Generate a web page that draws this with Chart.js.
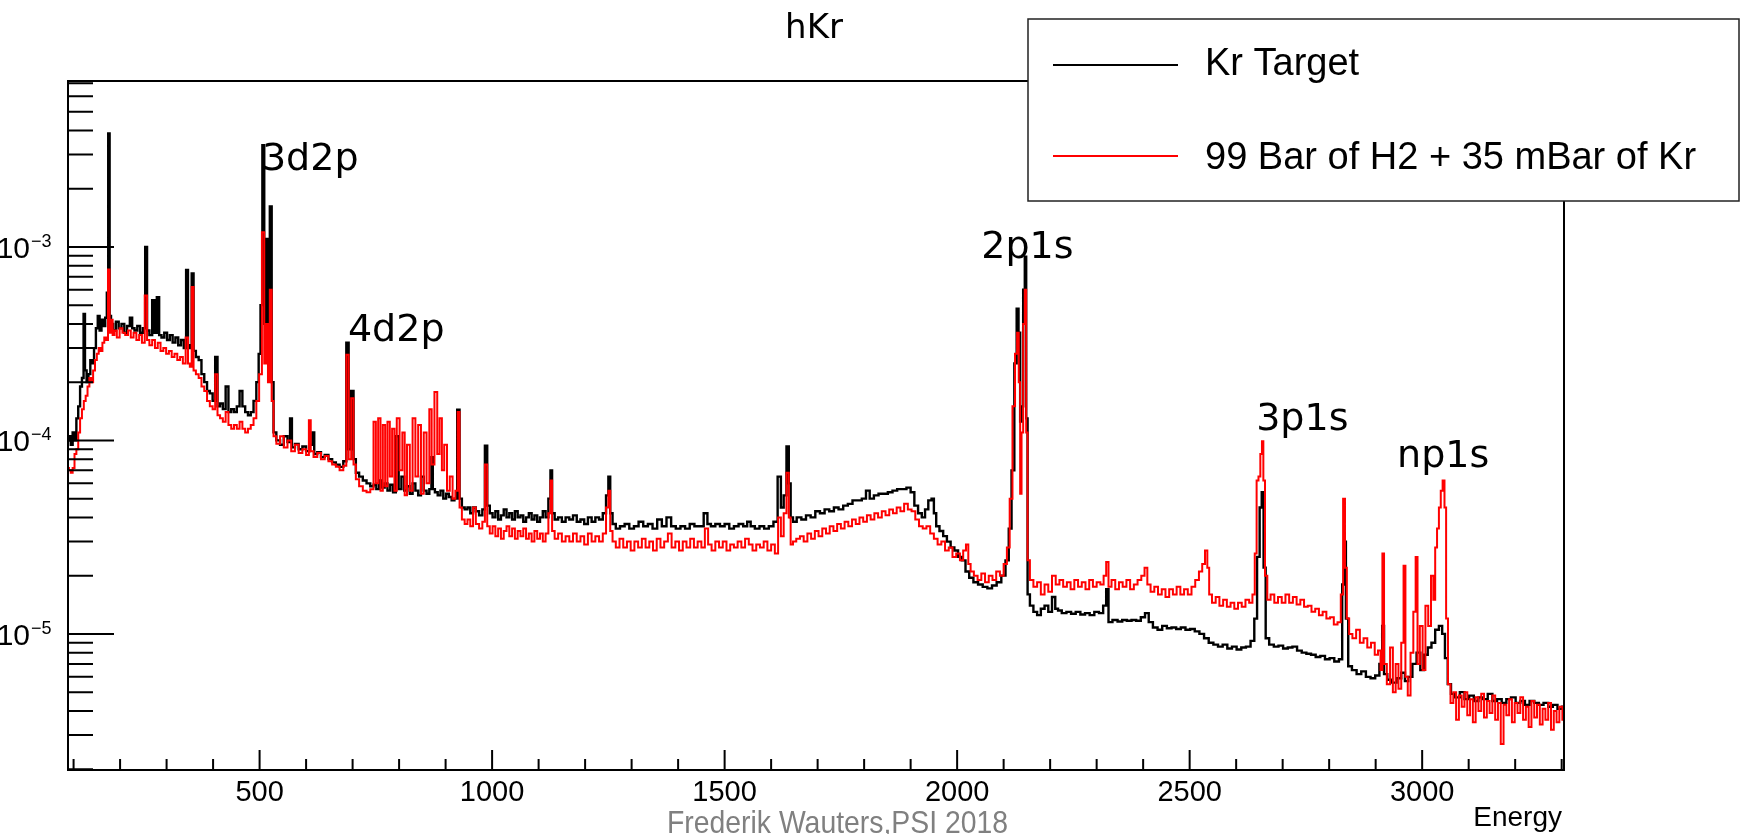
<!DOCTYPE html>
<html>
<head>
<meta charset="utf-8">
<title>hKr</title>
<script src="https://cdn.jsdelivr.net/npm/chart.js"></script>
<style>
  html, body { margin: 0; padding: 0; background: #fff; }
  #wrap { width: 1741px; height: 834px; position: relative; }
</style>
</head>
<body>
<div id="wrap"><canvas id="hKrChart"></canvas></div>
<script>
// axis range
const energyMin = 88;
const energyMax = 3305;
const countMin = 1.98e-6;
const countMax = 7.2e-3;

// tick labels
const energyTicks = [500, 1000, 1500, 2000, 2500, 3000];
const decadeTicks = [-3, -4, -5];

const seriesNames = ['Kr Target', '99 Bar of H2 + 35 mBar of Kr'];

// [energy, counts]
const krTarget = [
  [88,1.0e-4],[92,1.05e-4],[96,0.95e-4],[100,1.1e-4],[104,1.0e-4],[108,1.3e-4],[112,1.5e-4],[116,1.9e-4],
  [120,2.1e-4],[123,4.5e-4],[126,2.3e-4],[130,2.0e-4],[134,2.2e-4],[138,2.6e-4],[142,2.5e-4],[146,3.0e-4],
  [150,3.8e-4],[154,4.4e-4],[158,3.7e-4],[162,4.2e-4],[166,3.9e-4],[170,4.3e-4],[173,5.8e-4],[176,3.86e-3],
  [179,4.4e-4],[182,4.0e-4],[188,3.7e-4],[194,4.1e-4],[200,3.8e-4],[206,4.0e-4],[212,3.6e-4],[218,3.9e-4],
  [224,4.3e-4],[228,3.8e-4],[234,3.7e-4],[240,3.9e-4],[246,3.6e-4],[252,3.8e-4],[256,1.0e-3],[260,3.7e-4],
  [266,3.5e-4],[272,5.3e-4],[276,3.6e-4],[282,5.5e-4],[286,3.5e-4],[292,3.4e-4],[298,3.6e-4],[304,3.3e-4],
  [310,3.5e-4],[316,3.2e-4],[322,3.4e-4],[328,3.1e-4],[334,3.3e-4],[340,3.0e-4],[344,7.6e-4],[348,3.1e-4],
  [352,3.0e-4],[356,7.3e-4],[360,2.9e-4],[366,2.7e-4],[372,2.6e-4],[378,2.2e-4],[384,2.0e-4],[390,1.8e-4],
  [396,1.75e-4],[402,1.6e-4],[407,2.7e-4],[412,1.5e-4],[418,1.55e-4],[424,1.45e-4],[430,1.9e-4],[436,1.4e-4],
  [442,1.45e-4],[448,1.4e-4],[454,1.5e-4],[460,1.8e-4],[466,1.5e-4],[472,1.4e-4],[478,1.35e-4],[484,1.4e-4],
  [490,1.6e-4],[496,2.0e-4],[500,2.8e-4],[504,5.0e-4],[508,3.35e-3],[512,4.0e-4],[516,1.1e-3],[520,3.0e-4],
  [524,1.62e-3],[528,2.0e-4],[532,1.1e-4],[540,1.0e-4],[548,9.5e-5],[556,1.05e-4],[564,9.8e-5],[567,1.3e-4],
  [572,9.2e-5],[580,9.6e-5],[588,9.0e-5],[596,9.3e-5],[604,8.8e-5],[612,9.5e-5],[615,1.1e-4],[620,8.5e-5],
  [628,8.7e-5],[636,8.2e-5],[644,8.4e-5],[652,8.0e-5],[660,7.7e-5],[668,7.5e-5],[676,7.3e-5],[684,7.8e-5],
  [689,3.2e-4],[694,9.0e-5],[700,1.8e-4],[704,8.0e-5],[710,6.8e-5],[718,6.5e-5],[726,6.2e-5],[734,6.0e-5],
  [742,5.8e-5],[748,5.9e-5],[754,5.6e-5],[760,6.2e-5],[766,5.7e-5],[772,6.0e-5],[778,5.5e-5],[784,5.9e-5],
  [790,5.4e-5],[796,1.05e-4],[802,5.6e-5],[808,6.5e-5],[814,5.5e-5],[820,5.8e-5],[826,5.3e-5],[832,6.0e-5],
  [838,5.5e-5],[844,5.2e-5],[850,6.5e-5],[856,5.5e-5],[862,5.3e-5],[868,5.6e-5],[871,8.2e-5],[874,5.6e-5],
  [880,5.4e-5],[886,5.2e-5],[892,5.5e-5],[898,5.0e-5],[904,5.3e-5],[910,5.1e-5],[916,4.9e-5],[922,5.0e-5],
  [928,1.44e-4],[932,5.0e-5],[938,4.5e-5],[944,4.4e-5],[950,4.5e-5],[956,4.2e-5],[962,4.5e-5],[968,4.3e-5],
  [976,4.1e-5],[982,4.4e-5],[987,9.4e-5],[992,4.6e-5],[998,4.2e-5],[1004,4.0e-5],[1010,4.3e-5],[1016,3.9e-5],
  [1022,4.1e-5],[1028,4.4e-5],[1034,4.0e-5],[1040,4.2e-5],[1046,3.9e-5],[1052,4.3e-5],[1058,4.0e-5],[1064,4.1e-5],
  [1070,3.8e-5],[1076,4.0e-5],[1082,4.2e-5],[1088,3.9e-5],[1094,4.1e-5],[1100,3.8e-5],[1106,4.0e-5],[1112,4.3e-5],
  [1118,4.0e-5],[1124,5.0e-5],[1127,7.0e-5],[1131,4.2e-5],[1138,3.9e-5],[1146,4.0e-5],[1154,3.8e-5],[1162,4.0e-5],
  [1170,3.9e-5],[1178,4.1e-5],[1186,3.8e-5],[1194,3.9e-5],[1202,3.7e-5],[1210,4.0e-5],[1218,3.8e-5],[1226,4.0e-5],
  [1234,3.9e-5],[1242,4.2e-5],[1248,5.2e-5],[1252,6.5e-5],[1256,4.2e-5],[1262,3.7e-5],[1270,3.5e-5],[1280,3.6e-5],
  [1290,3.7e-5],[1300,3.5e-5],[1310,3.6e-5],[1320,3.8e-5],[1330,3.6e-5],[1340,3.7e-5],[1350,3.5e-5],[1360,3.9e-5],
  [1370,3.6e-5],[1380,4.0e-5],[1390,3.6e-5],[1400,3.5e-5],[1410,3.6e-5],[1420,3.5e-5],[1430,3.7e-5],[1440,3.6e-5],
  [1450,3.6e-5],[1460,4.2e-5],[1466,3.7e-5],[1475,3.6e-5],[1485,3.7e-5],[1495,3.6e-5],[1505,3.7e-5],[1515,3.5e-5],
  [1525,3.6e-5],[1535,3.7e-5],[1545,3.6e-5],[1552,3.8e-5],[1560,3.6e-5],[1570,3.5e-5],[1580,3.6e-5],[1590,3.5e-5],
  [1600,3.6e-5],[1610,3.8e-5],[1618,6.5e-5],[1624,4.5e-5],[1630,5.2e-5],[1636,9.3e-5],[1640,6.0e-5],[1644,4.0e-5],
  [1650,3.8e-5],[1660,4.0e-5],[1670,3.9e-5],[1680,4.1e-5],[1690,4.0e-5],[1700,4.3e-5],[1710,4.2e-5],[1720,4.4e-5],
  [1730,4.3e-5],[1740,4.5e-5],[1750,4.4e-5],[1760,4.6e-5],[1770,4.7e-5],[1780,4.9e-5],[1790,4.9e-5],[1800,5.0e-5],
  [1808,5.5e-5],[1816,5.0e-5],[1826,5.2e-5],[1836,5.3e-5],[1846,5.3e-5],[1856,5.4e-5],[1866,5.5e-5],[1876,5.6e-5],
  [1886,5.6e-5],[1896,5.7e-5],[1904,5.4e-5],[1912,4.6e-5],[1920,4.2e-5],[1928,4.0e-5],[1934,4.4e-5],[1942,4.9e-5],
  [1948,5.0e-5],[1952,4.2e-5],[1958,3.6e-5],[1966,3.4e-5],[1974,3.2e-5],[1982,3.0e-5],[1990,2.8e-5],[1998,2.7e-5],
  [2006,2.5e-5],[2014,2.4e-5],[2022,2.1e-5],[2030,1.95e-5],[2040,1.85e-5],[2050,1.8e-5],[2060,1.75e-5],[2070,1.72e-5],
  [2080,1.78e-5],[2090,1.85e-5],[2100,2.0e-5],[2108,2.4e-5],[2114,3.5e-5],[2120,7.0e-5],[2126,2.5e-4],[2130,4.8e-4],
  [2134,3.6e-4],[2137,1.25e-4],[2140,1.5e-4],[2144,6.0e-4],[2147,8.9e-4],[2150,1.3e-4],[2153,1.6e-5],[2160,1.4e-5],
  [2168,1.3e-5],[2176,1.25e-5],[2184,1.35e-5],[2192,1.4e-5],[2200,1.3e-5],[2208,1.55e-5],[2214,1.35e-5],[2220,1.32e-5],
  [2230,1.28e-5],[2240,1.3e-5],[2250,1.27e-5],[2260,1.3e-5],[2270,1.26e-5],[2280,1.28e-5],[2290,1.25e-5],[2300,1.3e-5],
  [2310,1.28e-5],[2318,1.4e-5],[2323,1.7e-5],[2328,1.15e-5],[2340,1.18e-5],[2350,1.16e-5],[2360,1.18e-5],[2370,1.17e-5],
  [2380,1.18e-5],[2390,1.17e-5],[2400,1.22e-5],[2408,1.28e-5],[2416,1.15e-5],[2426,1.08e-5],[2436,1.05e-5],[2446,1.1e-5],
  [2456,1.07e-5],[2466,1.08e-5],[2476,1.06e-5],[2486,1.08e-5],[2496,1.05e-5],[2506,1.06e-5],[2516,1.03e-5],[2526,1.0e-5],
  [2536,9.5e-6],[2546,9.0e-6],[2556,8.8e-6],[2566,8.6e-6],[2576,8.8e-6],[2586,8.4e-6],[2596,8.6e-6],[2606,8.3e-6],
  [2616,8.5e-6],[2626,8.6e-6],[2636,9.2e-6],[2642,1.2e-5],[2648,2.5e-5],[2653,4.5e-5],[2657,5.4e-5],[2661,2.2e-5],
  [2666,9.5e-6],[2676,8.8e-6],[2686,8.6e-6],[2696,8.7e-6],[2706,8.4e-6],[2716,8.5e-6],[2726,8.6e-6],[2736,8.2e-6],
  [2746,8.0e-6],[2756,7.9e-6],[2766,7.8e-6],[2776,7.6e-6],[2786,7.7e-6],[2796,7.4e-6],[2806,7.5e-6],[2816,7.2e-6],
  [2826,7.4e-6],[2830,1.8e-5],[2834,3.0e-5],[2838,1.2e-5],[2844,6.8e-6],[2854,6.5e-6],[2864,6.2e-6],[2874,6.4e-6],
  [2884,6.0e-6],[2894,5.9e-6],[2904,6.1e-6],[2912,7.0e-6],[2916,1.1e-5],[2920,6.2e-6],[2930,5.8e-6],[2940,5.6e-6],
  [2950,5.9e-6],[2960,6.3e-6],[2966,5.7e-6],[2974,6.0e-6],[2984,7.0e-6],[2992,8.0e-6],[3000,6.5e-6],[3008,7.8e-6],
  [3016,8.5e-6],[3024,9.0e-6],[3032,1.05e-5],[3040,1.1e-5],[3046,1.0e-5],[3052,7.5e-6],[3058,5.5e-6],[3066,4.9e-6],
  [3076,4.7e-6],[3086,5.0e-6],[3096,4.6e-6],[3106,4.8e-6],[3116,4.5e-6],[3126,4.7e-6],[3136,4.6e-6],[3146,4.9e-6],
  [3156,4.5e-6],[3166,4.6e-6],[3176,4.4e-6],[3186,4.6e-6],[3196,4.7e-6],[3206,4.4e-6],[3216,4.5e-6],[3226,4.3e-6],
  [3236,4.5e-6],[3246,4.4e-6],[3256,4.3e-6],[3266,4.4e-6],[3276,4.2e-6],[3286,4.3e-6],[3296,4.1e-6],[3305,4.2e-6]
];

const h2Kr = [
  [88,7.2e-5],[92,7.0e-5],[96,6.8e-5],[100,7.2e-5],[104,8.5e-5],[108,9.0e-5],[112,1.1e-4],[116,1.3e-4],
  [120,1.45e-4],[124,1.6e-4],[128,1.7e-4],[132,1.9e-4],[136,2.1e-4],[140,2.0e-4],[144,2.3e-4],[148,2.6e-4],
  [152,2.8e-4],[156,3.0e-4],[160,2.9e-4],[164,3.2e-4],[168,3.4e-4],[172,3.3e-4],[176,7.65e-4],[179,3.6e-4],
  [182,4.2e-4],[186,3.5e-4],[190,3.7e-4],[196,3.4e-4],[202,3.8e-4],[208,3.6e-4],[214,3.5e-4],[220,3.7e-4],
  [226,3.4e-4],[232,3.6e-4],[238,3.3e-4],[244,3.5e-4],[250,3.2e-4],[256,5.6e-4],[260,3.3e-4],[266,3.1e-4],
  [272,3.3e-4],[278,3.0e-4],[284,3.2e-4],[290,2.9e-4],[296,3.0e-4],[302,2.8e-4],[308,2.9e-4],[314,2.7e-4],
  [320,2.8e-4],[326,2.6e-4],[332,2.7e-4],[338,2.5e-4],[344,3.4e-4],[348,2.5e-4],[352,2.4e-4],[356,6.2e-4],
  [360,2.3e-4],[366,2.2e-4],[372,2.1e-4],[378,1.9e-4],[384,1.8e-4],[390,1.6e-4],[396,1.5e-4],[402,1.45e-4],
  [407,2.2e-4],[412,1.35e-4],[418,1.3e-4],[424,1.25e-4],[430,1.4e-4],[436,1.2e-4],[442,1.15e-4],[448,1.2e-4],
  [454,1.15e-4],[460,1.25e-4],[466,1.15e-4],[472,1.1e-4],[478,1.15e-4],[484,1.2e-4],[490,1.3e-4],[496,1.6e-4],
  [502,2.2e-4],[508,1.19e-3],[512,2.5e-4],[516,4.0e-4],[520,2.0e-4],[524,6.0e-4],[528,1.6e-4],[532,1.05e-4],
  [540,9.6e-5],[548,1.05e-4],[556,9.2e-5],[564,1.0e-4],[572,8.8e-5],[580,9.5e-5],[588,8.6e-5],[596,9.0e-5],
  [604,8.4e-5],[608,1.27e-4],[612,8.8e-5],[620,8.2e-5],[628,8.6e-5],[636,8.0e-5],[644,8.3e-5],[652,7.8e-5],
  [660,7.5e-5],[668,7.3e-5],[676,7.0e-5],[684,7.4e-5],[689,2.77e-4],[694,8.0e-5],[700,1.65e-4],[704,7.5e-5],
  [710,6.3e-5],[718,5.8e-5],[726,5.5e-5],[734,5.4e-5],[742,5.6e-5],[748,1.25e-4],[752,6.0e-5],[758,1.3e-4],
  [762,5.5e-5],[768,1.2e-4],[772,5.8e-5],[778,1.25e-4],[782,6.5e-5],[788,1.15e-4],[792,5.5e-5],[798,1.3e-4],
  [804,7.0e-5],[810,1.1e-4],[814,5.2e-5],[820,9.5e-5],[826,5.5e-5],[832,1.3e-4],[838,6.5e-5],[844,1.2e-4],
  [850,5.3e-5],[856,1.1e-4],[862,6.0e-5],[868,1.45e-4],[872,7.5e-5],[880,1.78e-4],[884,8.5e-5],[890,1.3e-4],
  [894,7.0e-5],[900,9.5e-5],[906,5.5e-5],[912,6.5e-5],[918,5.0e-5],[924,5.5e-5],[928,1.4e-4],[932,4.5e-5],
  [938,3.9e-5],[944,3.7e-5],[950,3.9e-5],[956,3.6e-5],[962,4.5e-5],[968,3.7e-5],[976,3.5e-5],[982,3.8e-5],
  [987,7.5e-5],[992,3.6e-5],[998,3.3e-5],[1004,3.6e-5],[1010,3.2e-5],[1016,3.5e-5],[1022,3.1e-5],[1028,3.4e-5],
  [1034,3.6e-5],[1040,3.2e-5],[1046,3.5e-5],[1052,3.1e-5],[1058,3.4e-5],[1064,3.2e-5],[1070,3.5e-5],[1076,3.1e-5],
  [1082,3.3e-5],[1088,3.0e-5],[1094,3.4e-5],[1100,3.1e-5],[1106,3.3e-5],[1112,3.0e-5],[1118,3.3e-5],[1124,4.2e-5],
  [1127,6.2e-5],[1131,3.4e-5],[1138,3.1e-5],[1146,3.3e-5],[1154,3.0e-5],[1162,3.2e-5],[1170,3.0e-5],[1178,3.3e-5],
  [1186,3.0e-5],[1194,3.2e-5],[1202,2.9e-5],[1210,3.3e-5],[1218,3.0e-5],[1226,3.2e-5],[1234,3.0e-5],[1242,3.3e-5],
  [1248,4.5e-5],[1252,5.5e-5],[1256,3.4e-5],[1262,3.0e-5],[1270,2.8e-5],[1278,3.1e-5],[1286,2.8e-5],[1294,3.0e-5],
  [1302,2.7e-5],[1310,3.0e-5],[1318,2.8e-5],[1326,3.1e-5],[1334,2.8e-5],[1342,3.0e-5],[1350,2.7e-5],[1358,3.1e-5],
  [1366,2.8e-5],[1374,3.0e-5],[1382,3.3e-5],[1390,2.8e-5],[1398,3.0e-5],[1406,2.7e-5],[1414,3.0e-5],[1422,2.8e-5],
  [1430,3.1e-5],[1438,2.8e-5],[1446,3.0e-5],[1454,2.8e-5],[1461,3.5e-5],[1468,2.9e-5],[1476,2.7e-5],[1484,3.0e-5],
  [1492,2.8e-5],[1500,3.0e-5],[1508,2.7e-5],[1516,2.9e-5],[1524,2.8e-5],[1532,3.0e-5],[1540,2.8e-5],[1548,3.1e-5],
  [1556,2.9e-5],[1564,2.7e-5],[1572,2.9e-5],[1580,2.8e-5],[1588,3.0e-5],[1596,2.7e-5],[1604,2.9e-5],[1612,2.6e-5],
  [1618,4.0e-5],[1624,3.2e-5],[1630,4.2e-5],[1636,6.8e-5],[1640,4.0e-5],[1644,2.9e-5],[1650,3.0e-5],[1658,3.1e-5],
  [1666,3.2e-5],[1674,3.0e-5],[1682,3.3e-5],[1690,3.1e-5],[1698,3.4e-5],[1706,3.2e-5],[1714,3.5e-5],[1722,3.3e-5],
  [1730,3.6e-5],[1738,3.4e-5],[1746,3.7e-5],[1754,3.5e-5],[1762,3.8e-5],[1770,3.6e-5],[1778,3.9e-5],[1786,3.7e-5],
  [1794,4.0e-5],[1802,3.8e-5],[1810,4.1e-5],[1818,3.9e-5],[1826,4.2e-5],[1834,4.0e-5],[1842,4.3e-5],[1850,4.1e-5],
  [1858,4.4e-5],[1866,4.2e-5],[1874,4.5e-5],[1882,4.3e-5],[1890,4.7e-5],[1898,4.4e-5],[1906,4.3e-5],[1914,3.9e-5],
  [1922,3.6e-5],[1930,3.5e-5],[1938,3.6e-5],[1946,3.3e-5],[1954,3.1e-5],[1962,2.9e-5],[1970,3.0e-5],[1978,2.7e-5],
  [1986,2.8e-5],[1994,2.5e-5],[2002,2.6e-5],[2010,2.4e-5],[2016,2.7e-5],[2022,2.9e-5],[2026,2.3e-5],[2032,2.1e-5],
  [2040,2.0e-5],[2048,1.9e-5],[2056,2.05e-5],[2064,1.85e-5],[2072,2.0e-5],[2080,1.9e-5],[2088,2.1e-5],[2096,2.0e-5],
  [2104,2.3e-5],[2110,2.8e-5],[2116,5.0e-5],[2122,1.5e-4],[2127,2.8e-4],[2131,3.6e-4],[2134,2.0e-4],[2137,5.3e-5],
  [2140,1.1e-4],[2144,4.0e-4],[2147,6.0e-4],[2150,1.1e-4],[2153,2.4e-5],[2160,1.9e-5],[2168,1.75e-5],[2176,1.85e-5],
  [2184,1.6e-5],[2192,1.8e-5],[2200,1.65e-5],[2208,2.0e-5],[2216,1.8e-5],[2224,1.9e-5],[2232,1.75e-5],[2240,1.85e-5],
  [2248,1.7e-5],[2256,1.9e-5],[2264,1.75e-5],[2272,1.85e-5],[2280,1.7e-5],[2288,1.9e-5],[2296,1.75e-5],[2304,1.85e-5],
  [2312,1.8e-5],[2318,2.0e-5],[2323,2.35e-5],[2328,1.75e-5],[2336,1.9e-5],[2344,1.7e-5],[2352,1.85e-5],[2360,1.75e-5],
  [2368,1.9e-5],[2376,1.7e-5],[2384,1.8e-5],[2392,1.9e-5],[2400,2.0e-5],[2406,2.2e-5],[2412,1.8e-5],[2420,1.65e-5],
  [2428,1.75e-5],[2436,1.6e-5],[2444,1.7e-5],[2452,1.55e-5],[2460,1.7e-5],[2468,1.6e-5],[2476,1.75e-5],[2484,1.6e-5],
  [2492,1.7e-5],[2500,1.6e-5],[2508,1.75e-5],[2516,1.9e-5],[2524,2.1e-5],[2530,2.3e-5],[2536,2.7e-5],[2540,2.2e-5],
  [2544,1.6e-5],[2552,1.45e-5],[2560,1.55e-5],[2568,1.4e-5],[2576,1.5e-5],[2584,1.38e-5],[2592,1.45e-5],[2600,1.35e-5],
  [2608,1.45e-5],[2616,1.38e-5],[2624,1.5e-5],[2632,1.45e-5],[2638,1.6e-5],[2642,2.6e-5],[2646,6.2e-5],[2650,6.5e-5],
  [2654,8.5e-5],[2657,9.9e-5],[2660,6.2e-5],[2664,2.0e-5],[2670,1.5e-5],[2678,1.6e-5],[2686,1.45e-5],[2694,1.55e-5],
  [2702,1.45e-5],[2710,1.6e-5],[2718,1.45e-5],[2726,1.55e-5],[2734,1.42e-5],[2742,1.5e-5],[2750,1.38e-5],[2758,1.4e-5],
  [2766,1.3e-5],[2774,1.35e-5],[2782,1.25e-5],[2790,1.3e-5],[2798,1.2e-5],[2806,1.22e-5],[2814,1.12e-5],[2822,1.15e-5],
  [2828,1.6e-5],[2832,5.0e-5],[2836,2.2e-5],[2840,1.2e-5],[2846,1.0e-5],[2854,9.5e-6],[2862,1.05e-5],[2870,9.0e-6],
  [2878,9.5e-6],[2886,8.5e-6],[2894,9.0e-6],[2902,7.8e-6],[2908,8.2e-6],[2913,6.5e-6],[2916,2.6e-5],[2920,7.0e-6],
  [2928,5.5e-6],[2934,8.5e-6],[2940,5.0e-6],[2946,7.0e-6],[2952,5.2e-6],[2958,9.0e-6],[2962,2.25e-5],[2966,6.0e-6],
  [2972,4.8e-6],[2978,8.0e-6],[2984,1.3e-5],[2988,2.5e-5],[2992,7.0e-6],[2998,1.1e-5],[3004,6.5e-6],[3010,1.4e-5],
  [3016,1.1e-5],[3022,2.0e-5],[3026,1.5e-5],[3030,2.8e-5],[3034,3.5e-5],[3038,4.5e-5],[3042,5.5e-5],[3046,6.2e-5],
  [3050,4.5e-5],[3053,1.2e-5],[3058,5.5e-6],[3064,4.4e-6],[3070,5.0e-6],[3076,3.6e-6],[3082,4.8e-6],[3088,4.2e-6],
  [3094,5.0e-6],[3100,3.8e-6],[3106,4.6e-6],[3112,3.5e-6],[3118,4.7e-6],[3124,4.0e-6],[3130,4.9e-6],[3136,3.7e-6],
  [3142,4.5e-6],[3148,3.9e-6],[3154,4.8e-6],[3160,3.6e-6],[3166,4.4e-6],[3172,2.7e-6],[3178,4.3e-6],[3184,3.8e-6],
  [3190,4.6e-6],[3196,3.5e-6],[3202,4.4e-6],[3208,3.9e-6],[3214,4.7e-6],[3220,3.6e-6],[3226,4.2e-6],[3232,3.3e-6],
  [3238,4.5e-6],[3244,3.7e-6],[3250,4.3e-6],[3256,3.4e-6],[3262,4.1e-6],[3268,3.6e-6],[3274,4.4e-6],[3280,3.2e-6],
  [3286,4.0e-6],[3292,3.5e-6],[3298,4.2e-6],[3305,3.6e-6]
];

// peak annotations: text, energy, counts at the text's baseline-left
const peakNotes = [
  ['3d2p', 505, 2.49e-3],
  ['4d2p', 690, 3.26e-4],
  ['2p1s', 2052, 8.74e-4],
  ['3p1s', 2643, 1.13e-4],
  ['np1s', 2946, 7.27e-5]
];

const toPoints = rows => rows.map(r => ({ x: r[0], y: r[1] }));

// ROOT-like frame, inner ticks, labels, legend box
const rootDecor = {
  id: 'rootDecor',
  beforeDraw(chart) {
    const ctx = chart.ctx;
    ctx.save();
    ctx.fillStyle = '#fff';
    ctx.fillRect(0, 0, chart.width, chart.height);
    ctx.restore();
  },
  afterDraw(chart) {
    const { ctx, chartArea: a } = chart;
    const xs = chart.scales.x, ys = chart.scales.y;
    ctx.save();
    ctx.strokeStyle = '#000';
    ctx.fillStyle = '#000';
    ctx.lineWidth = 2;
    ctx.strokeRect(a.left, a.top, a.right - a.left, a.bottom - a.top);

    // x ticks
    ctx.beginPath();
    for (let v = 100; v <= energyMax; v += 100) {
      const px = xs.getPixelForValue(v);
      const len = v % 500 === 0 ? 20 : 11;
      ctx.moveTo(px, a.bottom);
      ctx.lineTo(px, a.bottom - len);
    }
    // y ticks
    for (let d = -6; d <= -2; d++) {
      for (let m = 1; m <= 9; m++) {
        const v = m * Math.pow(10, d);
        if (v < countMin || v > countMax) continue;
        const py = ys.getPixelForValue(v);
        ctx.moveTo(a.left, py);
        ctx.lineTo(a.left + (m === 1 ? 46 : 25), py);
      }
    }
    ctx.stroke();

    // x labels
    ctx.font = '29px "Liberation Sans", Arial, sans-serif';
    ctx.textAlign = 'center';
    ctx.textBaseline = 'alphabetic';
    energyTicks.forEach(v => ctx.fillText(String(v), xs.getPixelForValue(v), a.bottom + 31));
    ctx.font = '28px "Liberation Sans", Arial, sans-serif';
    ctx.textAlign = 'right';
    ctx.fillText('Energy', a.right - 2, 826);

    // y labels 10^n
    decadeTicks.forEach(d => {
      const py = ys.getPixelForValue(Math.pow(10, d));
      ctx.font = '30px "Liberation Sans", Arial, sans-serif';
      ctx.textAlign = 'right';
      ctx.fillText('10', 30, py + 11);
      ctx.font = '18px "Liberation Sans", Arial, sans-serif';
      ctx.textAlign = 'left';
      ctx.fillText('\u2212' + Math.abs(d), 31, py);
    });

    // peak names
    ctx.font = '38px "DejaVu Sans", sans-serif';
    ctx.textAlign = 'left';
    peakNotes.forEach(n => ctx.fillText(n[0], xs.getPixelForValue(n[1]), ys.getPixelForValue(n[2])));

    // title
    ctx.font = '34px "DejaVu Sans", sans-serif';
    ctx.textAlign = 'center';
    ctx.fillText('hKr', 814, 38);

    // legend box
    ctx.fillStyle = '#fff';
    ctx.fillRect(1028, 19, 711, 182);
    ctx.strokeStyle = '#222';
    ctx.lineWidth = 1.5;
    ctx.strokeRect(1028, 19, 711, 182);
    const rows = [[65, 75, '#000000'], [156, 169, '#ff0000']];
    rows.forEach((r, i) => {
      ctx.strokeStyle = r[2];
      ctx.lineWidth = 2;
      ctx.beginPath();
      ctx.moveTo(1053, r[0]);
      ctx.lineTo(1178, r[0]);
      ctx.stroke();
      ctx.fillStyle = '#000';
      ctx.font = '38px "Liberation Sans", Arial, sans-serif';
      ctx.textAlign = 'left';
      ctx.fillText(seriesNames[i], 1205, r[1]);
    });

    // footer credit
    ctx.fillStyle = '#808080';
    ctx.font = '32px "Liberation Sans", Arial, sans-serif';
    ctx.textAlign = 'left';
    ctx.fillText('Frederik Wauters,PSI 2018', 667, 833, 341);
    ctx.restore();
  }
};

const ctxSpectrum = document.getElementById('hKrChart').getContext('2d');
const spectrumChart = new Chart(ctxSpectrum, {
    type: 'line',
    data: {
        datasets: [{
            label: seriesNames[0],
            data: toPoints(krTarget),
            borderColor: '#000000',
            borderWidth: 2.4,
            pointRadius: 0,
            stepped: 'middle',
            fill: false,
            order: 2
        },
        {
            label: seriesNames[1],
            data: toPoints(h2Kr),
            borderColor: '#ff0000',
            borderWidth: 2,
            pointRadius: 0,
            stepped: 'middle',
            fill: false,
            order: 1
        }]
    },
    options: {
        responsive: true,
        maintainAspectRatio: false,
        animation: false,
        layout: {
            padding: { left: 68, top: 81, right: 177, bottom: 64 }
        },
        plugins: {
            legend: { display: false },
            title: { display: false },
            tooltip: { enabled: false }
        },
        scales: {
            x: {
                type: 'linear',
                min: energyMin,
                max: energyMax,
                display: false
            },
            y: {
                type: 'logarithmic',
                min: countMin,
                max: countMax,
                display: false
            }
        }
    },
    plugins: [rootDecor]
});
</script>
</body>
</html>
